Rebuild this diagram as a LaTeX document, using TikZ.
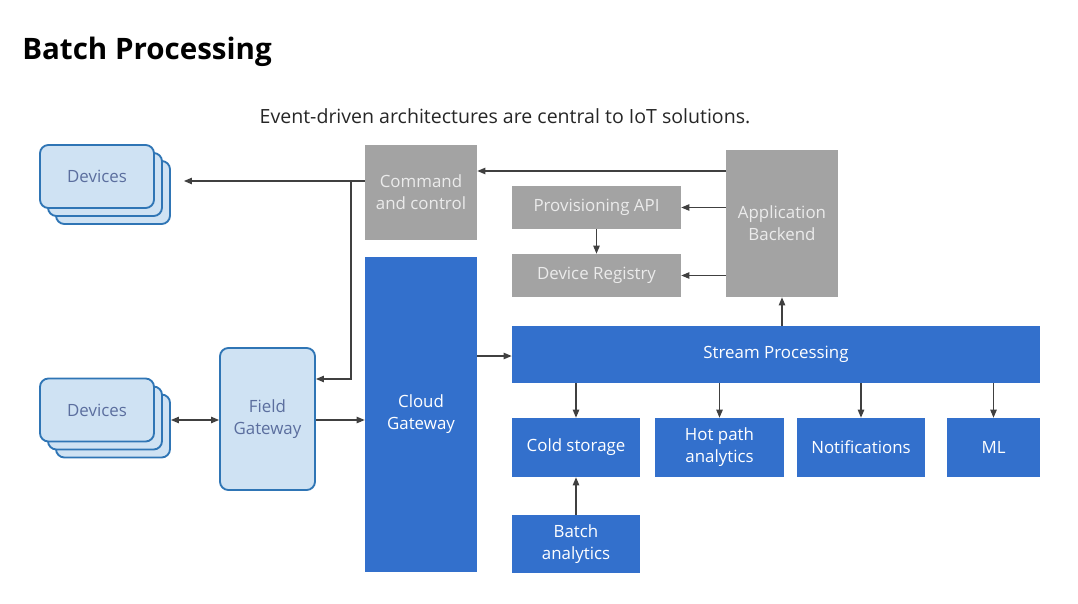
\documentclass[tikz,border=0pt]{standalone}
\usepackage{fontspec}
\setmainfont{Open Sans}
\usepackage{xcolor}
\usepackage{tikz}
\usetikzlibrary{arrows.meta, positioning}

\definecolor{azblue}{HTML}{3370CC}
\definecolor{azgray}{HTML}{A3A3A3}
\definecolor{devfill}{HTML}{CFE2F3}
\definecolor{devline}{HTML}{2F75B5}
\definecolor{devtext}{HTML}{5B6E9E}
\definecolor{linegray}{HTML}{404040}

\begin{document}
\begin{tikzpicture}[
      x=0.025cm, y=-0.025cm,
      box/.style={rectangle, inner sep=2pt, align=center, font=\fontsize{12}{15.5}\selectfont},
      blk/.style={box, fill=azblue, text=white},
      gry/.style={box, fill=azgray, text=white!92!black},
      dev/.style={box, draw=devline, line width=1.3pt, fill=devfill, text=devtext, rounded corners=6pt},
      arrow/.style={-{Triangle[length=2mm, width=1.6mm]}, draw=linegray, line width=0.8pt},
      both/.style={{Triangle[length=2mm, width=1.6mm]}-{Triangle[length=2mm, width=1.6mm]}, draw=linegray, line width=0.8pt},
    ]
    \useasboundingbox (0,0) rectangle (1078,604);

    % headings
    \node[anchor=west, inner sep=0pt, font=\fontsize{21}{25}\selectfont\bfseries] (title) at (22,52) {Batch Processing};
    \node[font=\fontsize{13.9}{17}\selectfont, text=black!85] (sub) at (505,116) {Event-driven architectures are central to IoT solutions.};

    % devices (stacked)
    \node[dev, minimum width=2.85cm, minimum height=1.575cm] (devA3) at (113,192.5) {};
    \node[dev, minimum width=2.85cm, minimum height=1.575cm] (devA2) at (105,184.5) {};
    \node[dev, minimum width=2.85cm, minimum height=1.575cm] (devA) at (97,176.5) {Devices};
    \node[dev, minimum width=2.85cm, minimum height=1.575cm] (devB3) at (113,426) {};
    \node[dev, minimum width=2.85cm, minimum height=1.575cm] (devB2) at (105,418) {};
    \node[dev, minimum width=2.85cm, minimum height=1.575cm] (devB) at (97,410) {Devices};
    \node[dev, minimum width=2.375cm, minimum height=3.55cm] (field) at (267.5,419) {Field\\Gateway};

    % cloud side
    \node[gry, minimum width=2.8cm, minimum height=2.375cm] (cmd) at (421,192.5) {Command\\and control};
    \node[blk, minimum width=2.8cm, minimum height=7.875cm] (cloud) at (421,414.5) {Cloud\\Gateway};
    \node[gry, minimum width=4.225cm, minimum height=1.075cm] (prov) at (596.5,207.5) {Provisioning API};
    \node[gry, minimum width=4.225cm, minimum height=1.075cm] (reg) at (596.5,275.5) {Device Registry};
    \node[gry, minimum width=2.8cm, minimum height=3.675cm] (app) at (782,223.5) {Application\\Backend};
    \node[blk, minimum width=13.2cm, minimum height=1.425cm] (stream) at (776,354.5) {Stream Processing};
    \node[blk, minimum width=3.2cm, minimum height=1.475cm] (cold) at (576,447.5) {Cold storage};
    \node[blk, minimum width=3.225cm, minimum height=1.475cm] (hot) at (719.5,447.5) {Hot path\\analytics};
    \node[blk, minimum width=3.2cm, minimum height=1.475cm] (notif) at (861,447.5) {Notifications};
    \node[blk, minimum width=2.325cm, minimum height=1.475cm] (ml) at (993.5,447.5) {ML};
    \node[blk, minimum width=3.2cm, minimum height=1.45cm] (batch) at (576,544) {Batch\\analytics};

    \coordinate (split) at (351,181);

    \draw[arrow] (cmd.west |- split) -- ([xshift=13*0.025cm]devA3.east |- split);
    \draw[arrow] (split) |- (field.east |- 0,379);
    \draw[both] (devB3.east |- 0,420) -- (field.west |- 0,420);
    \draw[arrow] (field.east |- 0,420) -- (cloud.west |- 0,420);
    \draw[arrow] (cloud.east |- 0,356) -- (stream.west |- 0,356);
    \draw[arrow] (app.west |- 0,171) -- (cmd.east |- 0,171);
    \draw[arrow] (app.west |- prov) -- (prov.east);
    \draw[arrow] (app.west |- reg) -- (reg.east);
    \draw[arrow] (prov) -- (reg);
    \draw[arrow] (stream.north -| app) -- (app.south);
    \draw[arrow] (stream.south -| cold) -- (cold.north);
    \draw[arrow] (stream.south -| hot) -- (hot.north);
    \draw[arrow] (stream.south -| notif) -- (notif.north);
    \draw[arrow] (stream.south -| ml) -- (ml.north);
    \draw[arrow] (batch) -- (cold);
  \end{tikzpicture}
\end{document}
